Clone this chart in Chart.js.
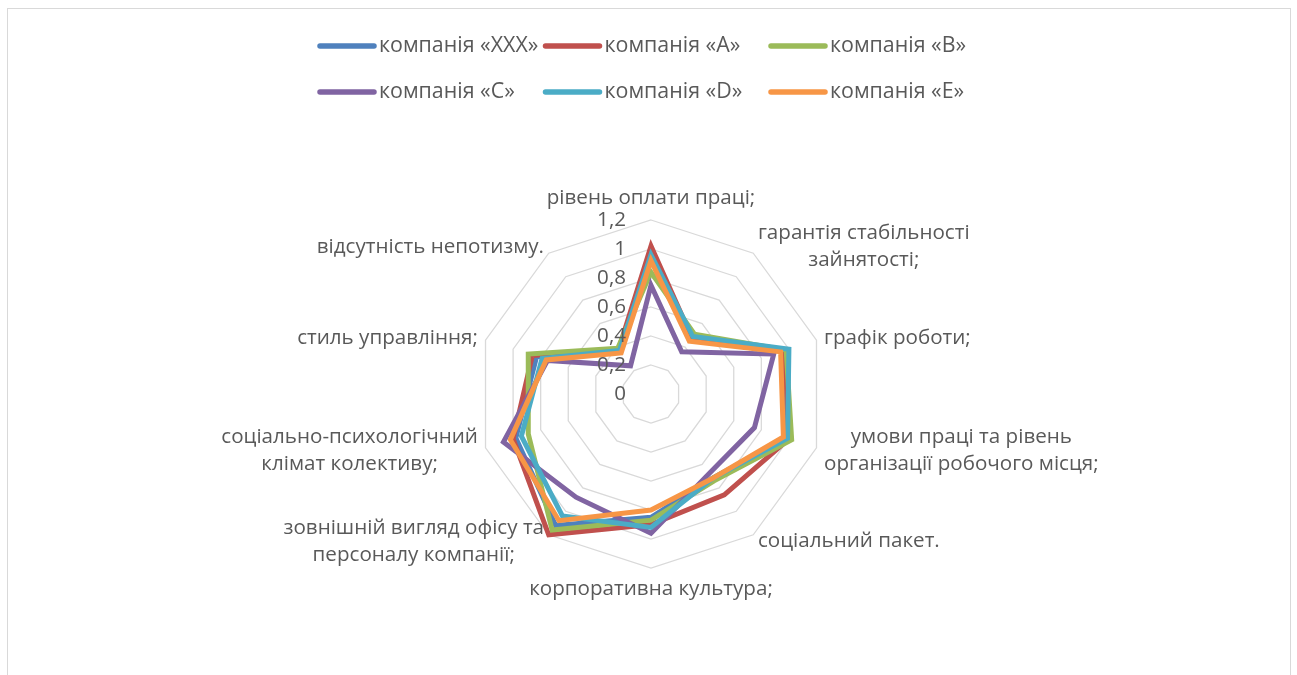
<!DOCTYPE html>
<html lang="uk">
<head>
<meta charset="utf-8">
<title>Фактори привабливості роботодавця</title>
<script src="https://cdn.jsdelivr.net/npm/chart.js@4.4.1/dist/chart.umd.min.js"></script>
<style>
  html, body { margin: 0; padding: 0; background: #ffffff; overflow: hidden; }
  #wrap { position: relative; width: 1297px; height: 675px; }
  #frame { position: absolute; left: 7px; top: 8px; width: 1284px; height: 720px;
           border: 1px solid #D9D9D9; box-sizing: border-box; }
  #c { position: absolute; left: 0; top: 0; }
</style>
</head>
<body>
<div id="wrap">
  <div id="frame"></div>
  <canvas id="c" width="1297" height="675"></canvas>
</div>
<script>
// Factors (axes of the radar), clockwise from the top
const categories = [
  'рівень оплати праці;',
  ['гарантія стабільності', 'зайнятості;'],
  'графік роботи;',
  ['умови праці та рівень', 'організації робочого місця;'],
  'соціальний пакет.',
  'корпоративна культура;',
  ['зовнішній вигляд офісу та', 'персоналу компанії;'],
  ['соціально-психологічний', 'клімат колективу;'],
  'стиль управління;',
  'відсутність непотизму.'
];

const seriesNames = ['компанія «XXX»', 'компанія «A»', 'компанія «B»',
                     'компанія «C»', 'компанія «D»', 'компанія «E»'];

const companyXXX = [0.95, 0.47, 0.97, 0.98, 0.72, 0.85, 1.12, 0.98, 0.83, 0.37];
const companyA   = [1.02, 0.48, 0.97, 1.00, 0.86, 0.90, 1.20, 1.00, 0.86, 0.38];
const companyB   = [0.84, 0.51, 0.98, 1.02, 0.74, 0.87, 1.16, 0.89, 0.89, 0.39];
const companyC   = [0.75, 0.36, 0.89, 0.75, 0.68, 0.96, 0.88, 1.07, 0.75, 0.24];
const companyD   = [0.96, 0.49, 1.00, 0.99, 0.72, 0.92, 1.04, 0.94, 0.79, 0.37];
const companyE   = [0.92, 0.45, 0.94, 0.96, 0.72, 0.80, 1.08, 1.02, 0.76, 0.35];

const tickLabels = ['0', '0,2', '0,4', '0,6', '0,8', '1', '1,2'];

const seriesColors = ['#4F81BD', '#C0504D', '#9BBB59', '#8064A2', '#4BACC6', '#F79646'];

const FONT_FAMILY = '"Open Sans", "Noto Sans", sans-serif';
const FONT_SIZE = 20.6;
const LEGEND_FONT_SIZE = 21.4;
const LINE_H = 27;
const TEXT_COLOR = '#595959';

const seriesValues = [companyXXX, companyA, companyB, companyC, companyD, companyE];

const datasets = seriesValues.map((values, i) => ({
  label: seriesNames[i],
  data: values,
  borderColor: seriesColors[i],
  backgroundColor: seriesColors[i],
  borderWidth: 5,
  borderJoinStyle: 'miter',
  fill: false,
  pointRadius: 0,
  pointHoverRadius: 0,
  tension: 0,
  // later series are painted on top
  order: seriesValues.length - 1 - i
}));

// Axis values, factor names and the two-row legend, drawn with the scale's geometry
const textLayer = {
  id: 'textLayer',
  afterDatasetsDraw(chart) {
    const r = chart.scales.r;
    const ctx = chart.ctx;
    ctx.save();
    ctx.font = FONT_SIZE + 'px ' + FONT_FAMILY;
    ctx.fillStyle = TEXT_COLOR;
    ctx.textBaseline = 'middle';

    // value labels along the vertical axis
    ctx.textAlign = 'right';
    r.ticks.forEach((t) => {
      const y = r.yCenter - r.getDistanceFromCenterForValue(t.value);
      ctx.fillText(t.label, r.xCenter - 25, y);
    });

    // factor names around the outer ring
    const dist = r.getDistanceFromCenterForValue(r.max) + 8;
    chart.data.labels.forEach((lab, i) => {
      const lines = Array.isArray(lab) ? lab : [lab];
      const p = r.getPointPosition(i, dist);
      const deg = Math.round(r.getIndexAngle(i) * 180 / Math.PI) % 360;
      const w = Math.max(...lines.map((l) => ctx.measureText(l).width));
      const h = lines.length * LINE_H;
      let left, top;
      if (deg === 0) { left = p.x - w / 2; top = p.y - h; }
      else if (deg === 180) { left = p.x - w / 2; top = p.y; }
      else if (deg < 180) { left = p.x; top = p.y - h / 2; }
      else { left = p.x - w; top = p.y - h / 2; }
      ctx.textAlign = 'center';
      lines.forEach((l, k) => ctx.fillText(l, left + w / 2, top + LINE_H * (k + 0.5)));
    });

    // legend: three columns, two rows
    ctx.font = LEGEND_FONT_SIZE + 'px ' + FONT_FAMILY;
    ctx.textAlign = 'left';
    chart.data.datasets.forEach((ds, i) => {
      const col = i % 3;
      const row = Math.floor(i / 3);
      const x0 = 320 + col * 225.5;
      const y = 46 + row * 46;
      ctx.strokeStyle = ds.borderColor;
      ctx.lineWidth = 5.5;
      ctx.lineCap = 'round';
      ctx.beginPath();
      ctx.moveTo(x0, y);
      ctx.lineTo(x0 + 54, y);
      ctx.stroke();
      ctx.fillText(ds.label, x0 + 59, y);
    });
    ctx.restore();
  }
};

new Chart(document.getElementById('c'), {
  type: 'radar',
  data: { labels: categories, datasets: datasets },
  options: {
    responsive: false,
    animation: false,
    devicePixelRatio: 1,
    layout: { padding: { left: 477, right: 472, top: 220, bottom: 107 } },
    plugins: {
      legend: { display: false },
      tooltip: { enabled: false },
      title: { display: false }
    },
    elements: { line: { borderCapStyle: 'butt' } },
    scales: {
      r: {
        min: 0,
        max: 1.2,
        ticks: {
          stepSize: 0.2,
          display: false,
          callback: (value, index) => tickLabels[index]
        },
        grid: { color: '#D9D9D9', lineWidth: 1.3 },
        angleLines: { display: false },
        pointLabels: { display: false }
      }
    }
  },
  plugins: [textLayer]
});
</script>
</body>
</html>
